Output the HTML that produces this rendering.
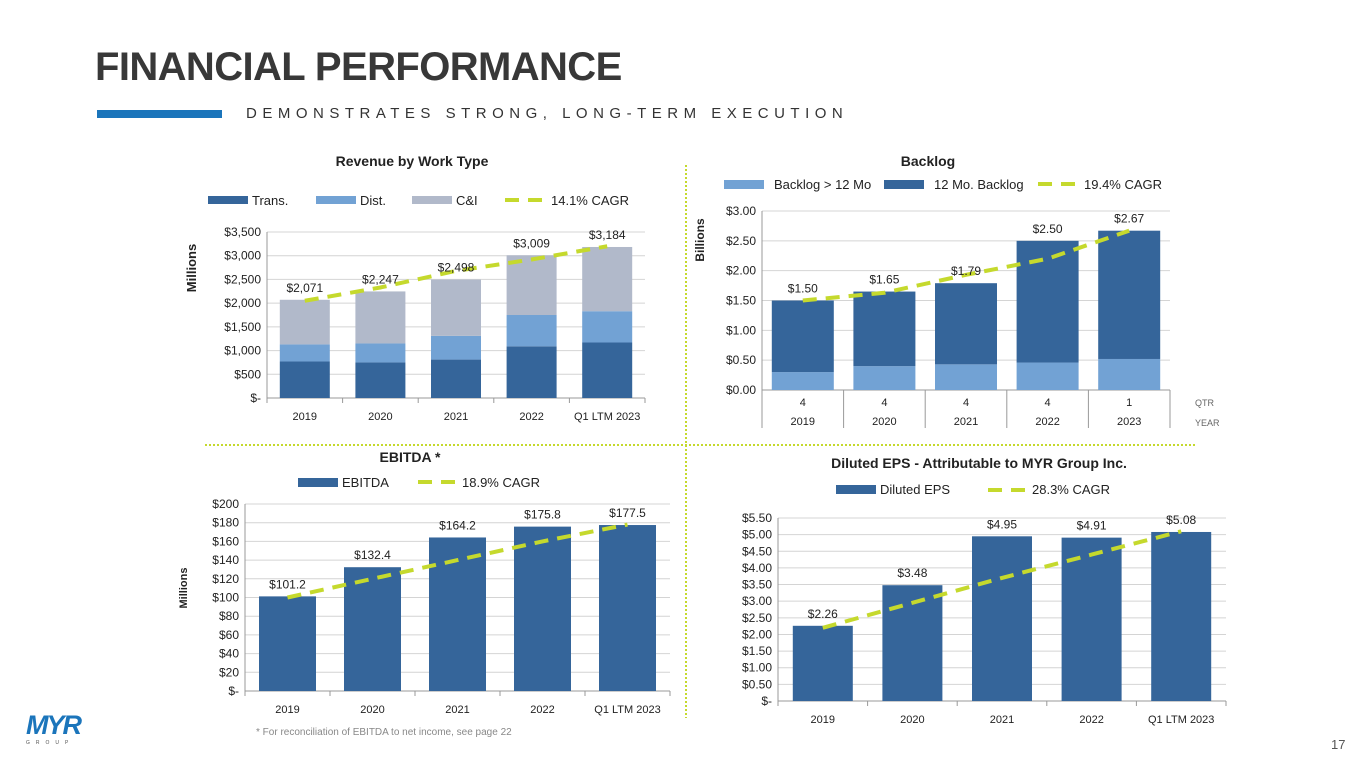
<!DOCTYPE html>
<html><head><meta charset="utf-8">
<style>
body{margin:0;width:1365px;height:768px;background:#fff;font-family:"Liberation Sans",sans-serif;overflow:hidden;position:relative}
#title{position:absolute;left:95px;top:45px;font-size:40px;font-weight:bold;color:#383838;letter-spacing:-0.6px}
#bluebar{position:absolute;left:97px;top:110px;width:125px;height:8px;background:#1b75bb}
#sub{position:absolute;left:246px;top:105px;font-size:15px;letter-spacing:5.5px;color:#333}
#pg{position:absolute;left:1331px;top:737px;font-size:13px;color:#555}
#note{position:absolute;left:256px;top:727px;font-size:10px;color:#888}
svg{position:absolute;left:0;top:0}
</style></head><body>
<div id="title">FINANCIAL PERFORMANCE</div>
<div id="bluebar"></div>
<div id="sub">DEMONSTRATES STRONG, LONG-TERM EXECUTION</div>
<div id="note">* For reconciliation of EBITDA to net income, see page 22</div>
<div id="pg">17</div>
<div style="position:absolute;left:26px;top:712px;width:54px">
<div style="font-size:27px;font-weight:bold;color:#1b75bb;letter-spacing:-2px;font-style:italic;line-height:27px">MYR</div>
<div style="font-size:5px;color:#555;letter-spacing:6px;line-height:8px">GROUP</div></div>
<svg id="s" width="1365" height="768"></svg>
<script>
const revCats=["2019","2020","2021","2022","Q1 LTM 2023"];
const revTrans=[770,750,810,1090,1170];
const revDist=[360,400,500,660,660];
const revCI=[941,1097,1188,1259,1354];
const revTotals=["$2,071","$2,247","$2,498","$3,009","$3,184"];
const revCagr=[2050,2330,2680,2920,3200];
const revTicks=[0,500,1000,1500,2000,2500,3000,3500];
const revTickLabels=["$-","$500","$1,000","$1,500","$2,000","$2,500","$3,000","$3,500"];

const blCats=["2019","2020","2021","2022","2023"];
const blQtr=["4","4","4","4","1"];
const blLong=[0.30,0.40,0.43,0.46,0.52];
const blTotal=[1.50,1.65,1.79,2.50,2.67];
const blLabels=["$1.50","$1.65","$1.79","$2.50","$2.67"];
const blCagr=[1.50,1.63,1.93,2.20,2.67];
const blTicks=[0,0.5,1,1.5,2,2.5,3];
const blTickLabels=["$0.00","$0.50","$1.00","$1.50","$2.00","$2.50","$3.00"];

const ebCats=["2019","2020","2021","2022","Q1 LTM 2023"];
const ebVals=[101.2,132.4,164.2,175.8,177.5];
const ebLabels=["$101.2","$132.4","$164.2","$175.8","$177.5"];
const ebCagr=[100,120,140,160,178];
const ebTicks=[0,20,40,60,80,100,120,140,160,180,200];
const ebTickLabels=["$-","$20","$40","$60","$80","$100","$120","$140","$160","$180","$200"];

const epsCats=["2019","2020","2021","2022","Q1 LTM 2023"];
const epsVals=[2.26,3.48,4.95,4.91,5.08];
const epsLabels=["$2.26","$3.48","$4.95","$4.91","$5.08"];
const epsCagr=[2.2,2.95,3.7,4.4,5.1];
const epsTicks=[0,0.5,1,1.5,2,2.5,3,3.5,4,4.5,5,5.5];
const epsTickLabels=["$-","$0.50","$1.00","$1.50","$2.00","$2.50","$3.00","$3.50","$4.00","$4.50","$5.00","$5.50"];

const NS="http://www.w3.org/2000/svg";
const svg=document.getElementById('s');
const DARK="#35659a",LIGHT="#72a2d4",GRAY="#b1b9ca",LINE="#c5d92d";
function mk(tag,attrs,parent){const e=document.createElementNS(NS,tag);for(const k in attrs)e.setAttribute(k,attrs[k]);(parent||svg).appendChild(e);return e;}
function txt(x,y,s,size,anchor,extra){const t=mk('text',Object.assign({x:x,y:y,'font-size':size,'text-anchor':anchor||'middle',fill:'#222'},extra||{}));t.textContent=s;return t;}

function chart(o){
  const g=mk('g',{});
  
  
  const n=o.cats.length,cw=(o.x1-o.x0)/n;
  const xc=i=>o.x0+cw*(i+0.5);
  const y=v=>o.yb-(v-o.ymin)/(o.ymax-o.ymin)*(o.yb-o.yt);
  o.ticks.forEach((t,i)=>{
    const gl=mk('line',{x1:o.x0,x2:o.x1,y1:y(t),y2:y(t),stroke:'#d4d4d4','stroke-width':1},g);
    
    
    const tl=txt(o.x0-6,y(t)+4,o.tickLabels[i],o.tfs||12,'end',{});g.appendChild(tl);
    
    
  });
  mk('line',{x1:o.x0,x2:o.x0,y1:o.yt,y2:o.yb,stroke:'#999'},g);
  mk('line',{x1:o.x0,x2:o.x1,y1:o.yb,y2:o.yb,stroke:'#999'},g);
  for(let i=0;i<=n;i++){mk('line',{x1:o.x0+cw*i,x2:o.x0+cw*i,y1:o.yb,y2:o.yb+(o.sepLen||5),stroke:'#999'},g);}
  o.series.forEach(s=>{
    o.cats.forEach((c,i)=>{
      const base=s.base?s.base[i]:0,top=base+s.vals[i];
      const r=mk('rect',{x:xc(i)-o.bw/2,y:y(top),width:o.bw,height:y(base)-y(top),fill:s.color},g);
      
      
    });
  });
  const pts=o.cagr.map((v,i)=>xc(i)+','+y(v)).join(' ');
  const pl=mk('polyline',{points:pts,fill:'none',stroke:LINE,'stroke-width':4,'stroke-dasharray':'14 9'},g);
  
  
  o.labels.forEach((l,i)=>{
    const t=txt(xc(i),y(o.totals[i])-8,l,12,'middle',{});g.appendChild(t);
    
    
  });
  o.cats.forEach((c,i)=>{
    const t=txt(xc(i),o.catY,c,11,'middle',{});g.appendChild(t);
    
    
  });
  return {xc,y,g,cw};
}

// Revenue
txt(412,166,"Revenue by Work Type",14,'middle',{'font-weight':'bold'});
const rb=revTrans.map((v,i)=>v+revDist[i]);
const r1=chart({name:'revenue-chart',cats:revCats,x0:267,x1:645,yt:232,yb:398,ymin:0,ymax:3500,ticks:revTicks,tickLabels:revTickLabels,bw:50,
 series:[{key:'trans',vals:revTrans,color:DARK},{key:'dist',vals:revDist,base:revTrans,color:LIGHT},{key:'ci',vals:revCI,base:rb,color:GRAY}],
 cagr:revCagr,labels:revTotals,totals:revTrans.map((v,i)=>v+revDist[i]+revCI[i]),catY:420});
txt(196,268,"Millions",13,'middle',{'font-weight':'bold',transform:'rotate(-90 196 268)'});
[[208,"Trans.",DARK],[316,"Dist.",LIGHT],[412,"C&I",GRAY]].forEach(l=>{mk('rect',{x:l[0],y:196,width:40,height:8,fill:l[2]});txt(l[0]+44,205,l[1],13,'start');});
mk('line',{x1:505,x2:547,y1:200,y2:200,stroke:LINE,'stroke-width':4,'stroke-dasharray':'14 9'});txt(551,205,"14.1% CAGR",13,'start');

// Backlog
txt(928,166,"Backlog",14,'middle',{'font-weight':'bold'});
const b=chart({name:'backlog-chart',cats:blCats,x0:762,x1:1170,yt:211,yb:390,ymin:0,ymax:3,ticks:blTicks,tickLabels:blTickLabels,bw:62,
 series:[{key:'long',vals:blLong,color:LIGHT},{key:'12mo',vals:blTotal.map((v,i)=>v-blLong[i]),base:blLong,color:DARK}],
 cagr:blCagr,labels:blLabels,totals:blTotal,catY:425,sepLen:38,tfs:12});
blQtr.forEach((q,i)=>txt(b.xc(i),406,q,11,'middle'));
txt(1195,406,"QTR",9,'start',{fill:'#666'});txt(1195,426,"YEAR",9,'start',{fill:'#666'});
txt(704,240,"Billions",12,'middle',{'font-weight':'bold',transform:'rotate(-90 704 240)'});
mk('rect',{x:724,y:180,width:40,height:9,fill:LIGHT});txt(774,189,"Backlog > 12 Mo",13,'start');
mk('rect',{x:884,y:180,width:40,height:9,fill:DARK});txt(934,189,"12 Mo. Backlog",13,'start');
mk('line',{x1:1038,x2:1080,y1:184,y2:184,stroke:LINE,'stroke-width':4,'stroke-dasharray':'14 9'});txt(1084,189,"19.4% CAGR",13,'start');

// EBITDA
txt(410,462,"EBITDA *",14,'middle',{'font-weight':'bold'});
chart({name:'ebitda-chart',cats:ebCats,x0:245,x1:670,yt:504,yb:691,ymin:0,ymax:200,ticks:ebTicks,tickLabels:ebTickLabels,bw:57,
 series:[{key:'ebitda',vals:ebVals,color:DARK}],cagr:ebCagr,labels:ebLabels,totals:ebVals,catY:713});
txt(187,588,"Millions",11,'middle',{'font-weight':'bold',transform:'rotate(-90 187 588)'});
mk('rect',{x:298,y:478,width:40,height:9,fill:DARK});txt(342,487,"EBITDA",13,'start');
mk('line',{x1:418,x2:456,y1:482,y2:482,stroke:LINE,'stroke-width':4,'stroke-dasharray':'14 9'});txt(462,487,"18.9% CAGR",13,'start');

// EPS
txt(979,468,"Diluted EPS - Attributable to MYR Group Inc.",14,'middle',{'font-weight':'bold'});
chart({name:'eps-chart',cats:epsCats,x0:778,x1:1226,yt:518,yb:701,ymin:0,ymax:5.5,ticks:epsTicks,tickLabels:epsTickLabels,bw:60,
 series:[{key:'eps',vals:epsVals,color:DARK}],cagr:epsCagr,labels:epsLabels,totals:epsVals,catY:723});
mk('rect',{x:836,y:485,width:40,height:9,fill:DARK});txt(880,494,"Diluted EPS",13,'start');
mk('line',{x1:988,x2:1026,y1:490,y2:490,stroke:LINE,'stroke-width':4,'stroke-dasharray':'14 9'});txt(1032,494,"28.3% CAGR",13,'start');

// dividers
const d1=mk('line',{x1:686,x2:686,y1:165,y2:718,stroke:'#c5d92d','stroke-width':2,'stroke-dasharray':'2 2'});

const d2=mk('line',{x1:205,x2:1196,y1:445,y2:445,stroke:'#c5d92d','stroke-width':2,'stroke-dasharray':'2 2'});

</script>
</body></html>
